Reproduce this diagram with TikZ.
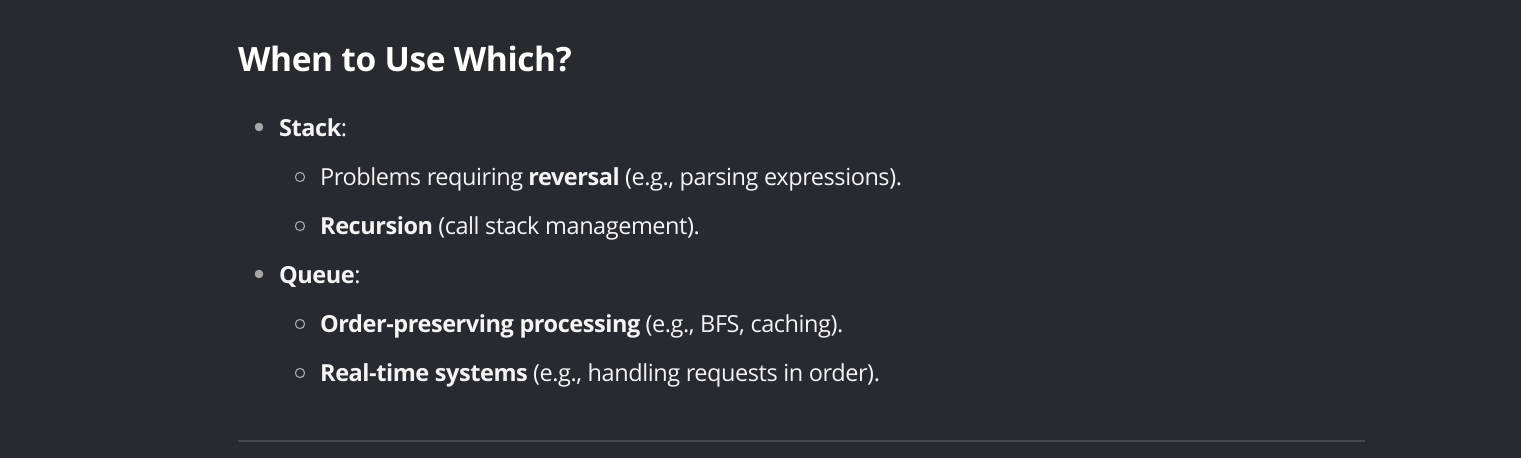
\documentclass[tikz,border=0pt]{standalone}
\usepackage{fontspec}
\setmainfont[LetterSpace=-1.9]{Open Sans}
\newfontfamily\titlefont[LetterSpace=-1.2]{Open Sans}
\definecolor{bg}{HTML}{292A2F}
\definecolor{txt}{HTML}{F4F4F4}
\definecolor{bul}{HTML}{A8A8A8}
\definecolor{rule}{HTML}{46484D}
\begin{document}
\begin{tikzpicture}[x=1pt,y=-1pt,
  title/.style={anchor=base west,inner sep=0pt,text=white,font=\titlefont\fontsize{33.5}{40}\selectfont\bfseries},
  body/.style={anchor=base west,inner sep=0pt,text=txt,font=\fontsize{23.5}{28}\selectfont},
  disc/.style={fill=bul,draw=none},
  ring/.style={draw=bul,line width=1.1pt}]
\fill[bg] (0,0) rectangle (1521,458);
\useasboundingbox (0,0) rectangle (1521,458);
\node[title] (t) at (238,71) {When to Use Which?};
\fill[disc] (259,127) circle (4.3);
\node[body] (l1) at (279,136) {\textbf{Stack}:};
\draw[ring] (300,177) circle (4.6);
\node[body] (l2) at (320,185) {Problems requiring \textbf{reversal} (e.g., parsing expressions).};
\draw[ring] (300,226) circle (4.6);
\node[body] (l3) at (320,234) {\textbf{Recursion} (call stack management).};
\fill[disc] (259,274) circle (4.3);
\node[body] (l4) at (279,283) {\textbf{Queue}:};
\draw[ring] (300,324) circle (4.6);
\node[body] (l5) at (320,332) {\textbf{Order-preserving processing} (e.g., BFS, caching).};
\draw[ring] (300,373) circle (4.6);
\node[body] (l6) at (320,381) {\textbf{Real-time systems} (e.g., handling requests in order).};
\draw[rule,line width=1.3pt] (238,441) -- (1365,441);
\end{tikzpicture}
\end{document}
